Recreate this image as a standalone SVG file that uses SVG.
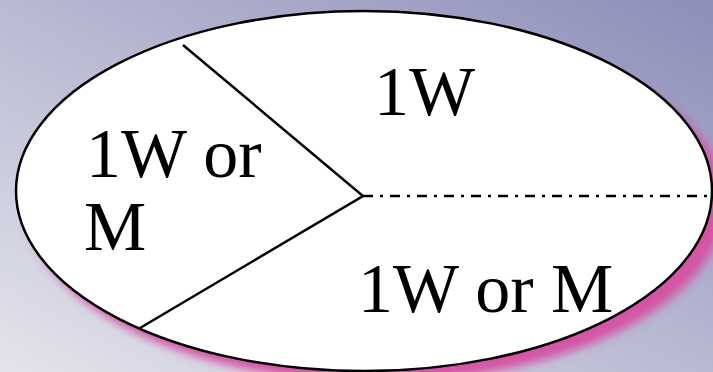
<svg xmlns="http://www.w3.org/2000/svg" width="713" height="372" viewBox="0 0 713 372">
<defs>
<linearGradient id="bg" x1="0" y1="1" x2="1" y2="0">
<stop offset="0" stop-color="#e4e4ec"/>
<stop offset="1" stop-color="#8d8eb9"/>
</linearGradient>
<filter id="blur" x="-10%" y="-10%" width="120%" height="120%">
<feGaussianBlur stdDeviation="5"/>
</filter>
<style>
.t{font-family:"Liberation Serif","Times New Roman",serif;font-size:70px;fill:#000}
.ln{stroke:#000;stroke-width:2.5;fill:none}
</style>
</defs>
<rect width="713" height="372" fill="url(#bg)"/>
<ellipse cx="376" cy="203" rx="349" ry="179" fill="#d455a6" filter="url(#blur)"/>
<g id="ellipse">
<ellipse cx="364" cy="191" rx="348" ry="180" fill="#fff" stroke="#000" stroke-width="2.5"/>
</g>
<g id="connectors">
<polyline class="ln" points="183,45 363,196 140,328"/>
<line class="ln" x1="363" y1="196" x2="713" y2="196" stroke-dasharray="10,7,3,7"/>
</g>
<g id="top"><text class="t" x="374" y="115">1W</text></g>
<g id="left"><text class="t" x="86" y="177">1W or</text><text class="t" x="84" y="250">M</text></g>
<g id="bottom"><text class="t" x="358" y="312">1W or M</text></g>
</svg>
